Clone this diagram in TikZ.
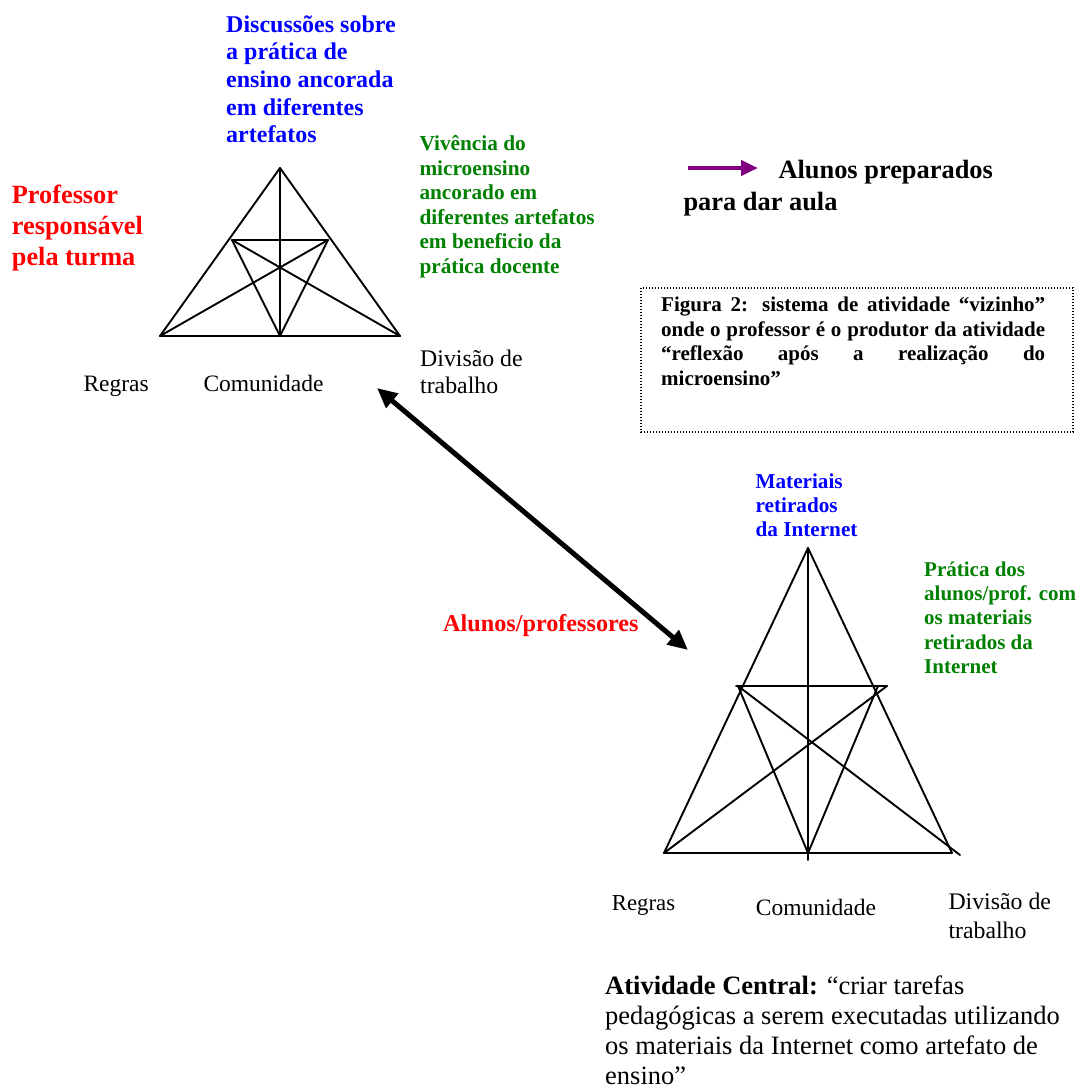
\documentclass[tikz,border=0pt]{standalone}
\usepackage{fontspec}
\setmainfont{Liberation Serif}
\usepackage{tikz}
\usetikzlibrary{arrows.meta,positioning}
\definecolor{dgreen}{RGB}{0,128,0}
\definecolor{dpurple}{RGB}{128,0,128}
\tikzset{
        % Lines of the triangles
        tri_line/.style={line width=1.9pt, line cap=round, line join=round},
        % Every text label (placed at the baseline of its last line)
        label_text/.style={anchor=base west, inner sep=0pt, align=left},
        % Corner labels
        label_corner/.style={label_text, black, font=\fontsize{23.5}{27}\selectfont},
        % Object labels
        label_object/.style={label_text, blue, font=\bfseries\fontsize{24}{27.6}\selectfont},
        % Outcome labels
        label_outcome/.style={label_text, dgreen, font=\bfseries\fontsize{21.3}{24.5}\selectfont},
        % Subject labels
        label_subject/.style={label_text, red, font=\bfseries\fontsize{26.3}{30.8}\selectfont},
        % Arrows
        link_arrow/.style={{Triangle[length=20pt,width=18pt]}-{Triangle[length=20pt,width=18pt]}, line width=5pt},
        ready_arrow/.style={-{Triangle[length=17pt,width=15pt]}, dpurple, line width=4.5pt},
        % Caption box
        caption_box/.style={line width=1.3pt, dash pattern=on 1.4pt off 1.6pt}
}
\begin{document}
\begin{tikzpicture}[x=1pt, y=-1pt]
    \useasboundingbox (0,0) rectangle (1078,1090);

    % top triangle
    \coordinate (t_apex) at (280,168);
    \coordinate (t_left) at (160,336);
    \coordinate (t_right) at (400,336);
    \coordinate (t_mid) at (280,336);
    \coordinate (t_in_left) at (232,240);
    \coordinate (t_in_right) at (328,240);
    \draw[tri_line] (t_apex) -- (t_left) -- (t_right) -- cycle;
    \draw[tri_line] (t_apex) -- (t_mid);
    \draw[tri_line] (t_in_left) -- (t_in_right) -- (t_mid) -- cycle;
    \draw[tri_line] (t_left) -- (t_in_right);
    \draw[tri_line] (t_right) -- (t_in_left);

    % bottom triangle
    \coordinate (b_apex) at (808,548);
    \coordinate (b_left) at (664,853);
    \coordinate (b_right) at (952,853);
    \coordinate (b_mid) at (808,853);
    \coordinate (b_stem) at (808,860);
    \coordinate (b_in_left) at (736,686);
    \coordinate (b_in_right) at (887,686);
    \coordinate (b_cross_left) at (738,686);
    \coordinate (b_cross_right) at (878,686);
    \coordinate (b_overshoot) at (960,855);
    \draw[tri_line] (b_apex) -- (b_left) -- (b_right) -- cycle;
    \draw[tri_line] (b_apex) -- (b_stem);
    \draw[tri_line] (b_in_left) -- (b_in_right);
    \draw[tri_line] (b_cross_left) -- (b_mid) -- (b_cross_right);
    \draw[tri_line] (b_left) -- (b_in_right);
    \draw[tri_line] (b_cross_left) -- (b_overshoot);

    % labels of the top system
    \node[label_object] (obj_top) at (226,142.7) {Discussões sobre\\a prática de\\ensino ancorada\\em diferentes\\artefatos};
    \node[label_outcome] (outcome_top) at (419.3,273) {Vivência do\\microensino\\ancorado em\\diferentes artefatos\\em beneficio da\\prática docente};
    \node[label_subject] (subject_top) at (11.7,265) {Professor\\responsável\\pela turma};
    \node[label_corner] (rules_top) at (83.3,391.7) {Regras};
    \node[label_corner] (community_top) at (203.3,391.7) {Comunidade};
    \node[label_corner, font=\fontsize{23.8}{26.6}\selectfont] (division_top) at (420,393.3) {Divisão de\\trabalho};

    % labels of the bottom system
    \node[label_object, font=\bfseries\fontsize{21.2}{24}\selectfont] (obj_bottom) at (755.4,536) {Materiais\\retirados\\da Internet};
    \node[label_outcome, font=\bfseries\fontsize{21}{24.2}\selectfont] (outcome_bottom) at (924,673.3) {Prática dos\\alunos/prof. com\\os materiais\\retirados da\\Internet};
    \node[label_subject, font=\bfseries\fontsize{24.2}{28}\selectfont] (subject_bottom) at (443,631.7) {Alunos/professores};
    \node[label_corner, font=\fontsize{22.8}{27}\selectfont] (rules_bottom) at (611.7,910) {Regras};
    \node[label_corner] (community_bottom) at (755.7,915) {Comunidade};
    \node[label_corner, font=\fontsize{23.8}{29}\selectfont] (division_bottom) at (948.3,938.3) {Divisão de\\trabalho};
    \node[label_corner, font=\fontsize{26.5}{29.7}\selectfont] (central) at (605,1084) {\textbf{Atividade Central:} “criar tarefas\\pedagógicas a serem executadas utilizando\\os materiais da Internet como artefato de\\ensino”};

    % outcome arrow
    \coordinate (ready_start) at (688,168);
    \coordinate (ready_end) at (758,168);
    \draw[ready_arrow] (ready_start) -- (ready_end);
    \node[label_text, font=\bfseries\fontsize{26.4}{31.7}\selectfont] (ready) at (683.3,210) {\hspace*{95pt}Alunos preparados\\para dar aula};

    % caption
    \coordinate (caption_nw) at (641,288);
    \coordinate (caption_se) at (1073,432);
    \draw[caption_box] (caption_nw) rectangle (caption_se);
    \node[label_text, text width=384pt, align=justify, font=\bfseries\fontsize{21}{24.5}\selectfont] (caption) at (661,311.7) {Figura 2: sistema de atividade “vizinho”\linebreak onde o professor é o produtor da atividade\linebreak “reflexão após a realização do\linebreak microensino”};

    % link between the two systems
    \coordinate (link_top) at (377,388);
    \coordinate (link_bottom) at (688,650);
    \draw[link_arrow] (link_top) -- (link_bottom);
\end{tikzpicture}
\end{document}
